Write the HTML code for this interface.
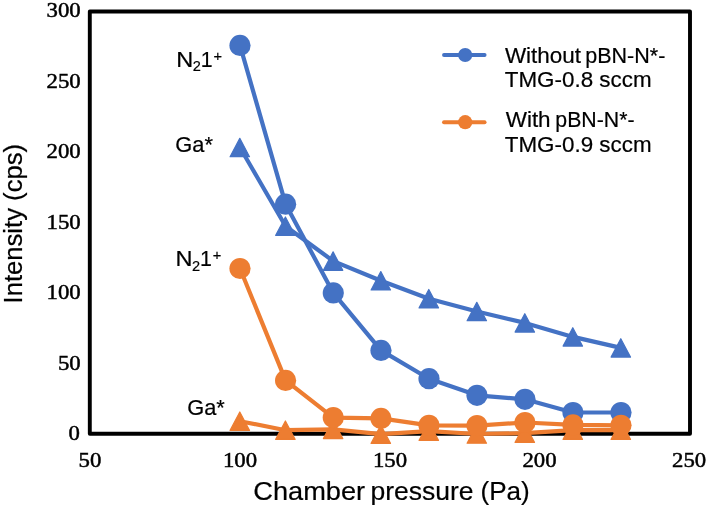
<!DOCTYPE html>
<html lang="en"><head><meta charset="utf-8"><title>Intensity vs chamber pressure</title>
<style>html,body{margin:0;padding:0;background:#fff}body{width:708px;height:508px;overflow:hidden}svg{display:block}</style>
</head><body>
<svg width="708" height="508" viewBox="0 0 708 508">
<rect width="708" height="508" fill="#fff"/>
<rect x="89.8" y="11.5" width="600.2" height="422.25" fill="none" stroke="#000" stroke-width="3.9" stroke-linejoin="round"/>
<g font-family="'Liberation Serif',serif" fill="#000" stroke="#000" stroke-width="0.5">
<text transform="translate(79.80 440.40) scale(1.035 1)" font-size="22" text-anchor="end">0</text>
<text transform="translate(80.70 369.50) scale(1.035 1)" font-size="22" text-anchor="end">50</text>
<text transform="translate(80.70 298.90) scale(1.035 1)" font-size="22" text-anchor="end">100</text>
<text transform="translate(80.70 228.60) scale(1.035 1)" font-size="22" text-anchor="end">150</text>
<text transform="translate(80.70 158.40) scale(1.035 1)" font-size="22" text-anchor="end">200</text>
<text transform="translate(80.70 87.80) scale(1.035 1)" font-size="22" text-anchor="end">250</text>
<text transform="translate(80.70 17.20) scale(1.035 1)" font-size="22" text-anchor="end">300</text>
<text transform="translate(90.00 467.45) scale(1.035 1)" font-size="22" text-anchor="middle">50</text>
<text transform="translate(240.00 467.45) scale(1.035 1)" font-size="22" text-anchor="middle">100</text>
<text transform="translate(390.00 467.45) scale(1.035 1)" font-size="22" text-anchor="middle">150</text>
<text transform="translate(539.50 467.45) scale(1.035 1)" font-size="22" text-anchor="middle">200</text>
<text transform="translate(689.10 467.45) scale(1.035 1)" font-size="22" text-anchor="middle">250</text>
</g>
<g font-family="'Liberation Sans',sans-serif" fill="#000" stroke="#000" stroke-width="0.2">
<text y="500.40" font-size="26.5"><tspan x="253.28" textLength="111.91" lengthAdjust="spacingAndGlyphs">Chamber</tspan> <tspan x="370.45">pressure</tspan> <tspan x="480.50" textLength="49.31" lengthAdjust="spacingAndGlyphs">(Pa)</tspan></text>
<text transform="translate(21.6 223.7) scale(1.04 1) rotate(-90)" font-size="25.65" text-anchor="middle">Intensity (cps)</text>
<text transform="translate(176.2 66.6)" font-size="21.3"><tspan textLength="17" lengthAdjust="spacingAndGlyphs">N</tspan><tspan x="16.6" y="4.2" font-size="14.6">2</tspan><tspan x="24.6" y="0">1</tspan><tspan x="37.3" y="-6.0" font-size="14.6">+</tspan></text>
<text transform="translate(175.4 266.2)" font-size="21.3"><tspan textLength="17" lengthAdjust="spacingAndGlyphs">N</tspan><tspan x="16.6" y="5.0" font-size="14.6">2</tspan><tspan x="24.6" y="0">1</tspan><tspan x="37.3" y="-6.0" font-size="14.6">+</tspan></text>
<text transform="translate(175.30 151.90) scale(1.025 1)" font-size="21.3">Ga*</text>
<text transform="translate(187.20 415.40) scale(1.025 1)" font-size="21.3">Ga*</text>
<text y="62.50" font-size="21.5"><tspan x="504.90" textLength="76.16" lengthAdjust="spacingAndGlyphs">Without</tspan> <tspan x="585.30" textLength="80.02" lengthAdjust="spacingAndGlyphs">pBN-N*-</tspan></text>
<text transform="translate(504.80 87.20) scale(1.042 1)" font-size="21.5">TMG-0.8 sccm</text>
<text y="127.30" font-size="21.5"><tspan x="505.70" textLength="44.93" lengthAdjust="spacingAndGlyphs">With</tspan> <tspan x="555.30" textLength="79.22" lengthAdjust="spacingAndGlyphs">pBN-N*-</tspan></text>
<text transform="translate(504.80 152.10) scale(1.042 1)" font-size="21.5">TMG-0.9 sccm</text>
</g>
<g stroke-width="3.9" stroke-linecap="round"><line x1="444" y1="55" x2="484.6" y2="55" stroke="#4472c4"/><circle cx="465.2" cy="55" r="7.1" fill="#4472c4"/>
<line x1="444" y1="122.2" x2="484.6" y2="122.2" stroke="#ed7d31"/><circle cx="465.2" cy="122.2" r="7.1" fill="#ed7d31"/></g>
<polyline points="240.0,147.5 285.6,226.2 333.3,261.1 381.0,280.8 429.0,298.7 477.0,311.5 525.0,322.9 573.0,336.9 621.0,347.9" fill="none" stroke="#4472c4" stroke-width="4.2" stroke-linejoin="round" stroke-linecap="round"/>
<g fill="#4472c4" stroke="#4472c4" stroke-width="1.2" stroke-linejoin="round"><polygon points="239.8,138.3 249.5,156.7 230.1,156.7"/><polygon points="285.4,217.0 295.1,235.4 275.7,235.4"/><polygon points="333.1,251.9 342.8,270.3 323.4,270.3"/><polygon points="380.8,271.6 390.5,290.0 371.1,290.0"/><polygon points="428.8,289.5 438.5,307.9 419.1,307.9"/><polygon points="476.8,302.3 486.5,320.7 467.1,320.7"/><polygon points="524.8,313.7 534.5,332.1 515.1,332.1"/><polygon points="572.8,327.7 582.5,346.1 563.1,346.1"/><polygon points="620.8,338.7 630.5,357.1 611.1,357.1"/></g>
<polyline points="240.0,45.4 285.6,204.2 333.3,292.9 381.0,350.4 429.0,378.7 477.0,395.3 525.0,399.3 573.0,412.5 621.0,412.5" fill="none" stroke="#4472c4" stroke-width="4.2" stroke-linejoin="round" stroke-linecap="round"/>
<g fill="#4472c4"><circle cx="240.0" cy="45.4" r="10.6"/><circle cx="285.6" cy="204.2" r="10.6"/><circle cx="333.3" cy="292.9" r="10.6"/><circle cx="381.0" cy="350.4" r="10.6"/><circle cx="429.0" cy="378.7" r="10.6"/><circle cx="477.0" cy="395.3" r="10.6"/><circle cx="525.0" cy="399.3" r="10.6"/><circle cx="573.0" cy="412.5" r="10.6"/><circle cx="621.0" cy="412.5" r="10.6"/></g>
<polyline points="240.0,421.2 285.6,430.2 333.3,429.4 381.0,434.2 429.0,431.2 477.0,434.0 525.0,433.2 573.0,430.2 621.0,430.2" fill="none" stroke="#ed7d31" stroke-width="4.2" stroke-linejoin="round" stroke-linecap="round"/>
<g fill="#ed7d31" stroke="#ed7d31" stroke-width="1.2" stroke-linejoin="round"><polygon points="239.8,412.0 249.5,430.4 230.1,430.4"/><polygon points="285.4,421.0 295.1,439.4 275.7,439.4"/><polygon points="333.1,420.2 342.8,438.6 323.4,438.6"/><polygon points="380.8,425.0 390.5,443.4 371.1,443.4"/><polygon points="428.8,422.0 438.5,440.4 419.1,440.4"/><polygon points="476.8,424.8 486.5,443.2 467.1,443.2"/><polygon points="524.8,424.0 534.5,442.4 515.1,442.4"/><polygon points="572.8,421.0 582.5,439.4 563.1,439.4"/><polygon points="620.8,421.0 630.5,439.4 611.1,439.4"/></g>
<polyline points="240.0,268.5 285.6,380.4 333.3,417.6 381.0,418.4 429.0,425.3 477.0,425.6 525.0,422.5 573.0,424.9 621.0,425.3" fill="none" stroke="#ed7d31" stroke-width="4.2" stroke-linejoin="round" stroke-linecap="round"/>
<g fill="#ed7d31"><circle cx="240.0" cy="268.5" r="10.6"/><circle cx="285.6" cy="380.4" r="10.6"/><circle cx="333.3" cy="417.6" r="10.6"/><circle cx="381.0" cy="418.4" r="10.6"/><circle cx="429.0" cy="425.3" r="10.6"/><circle cx="477.0" cy="425.6" r="10.6"/><circle cx="525.0" cy="422.5" r="10.6"/><circle cx="573.0" cy="424.9" r="10.6"/><circle cx="621.0" cy="425.3" r="10.6"/></g>
</svg>
</body></html>
